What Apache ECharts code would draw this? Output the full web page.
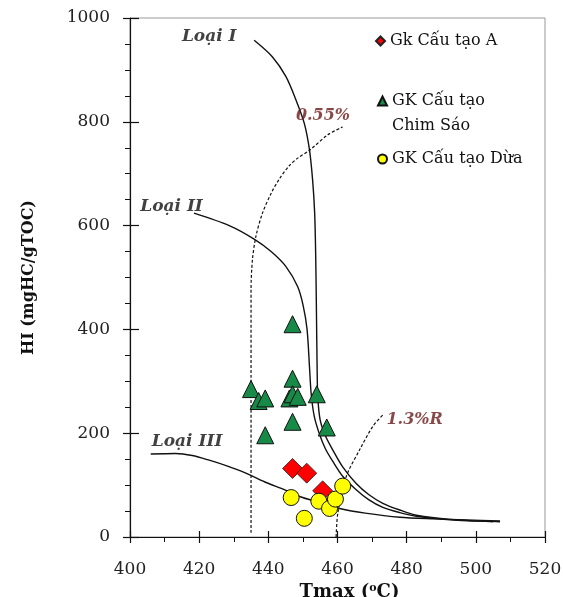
<!DOCTYPE html>
<html>
<head>
<meta charset="utf-8">
<script src="https://cdn.jsdelivr.net/npm/echarts@6/dist/echarts.min.js"></script>
<style>
  html, body { margin: 0; padding: 0; background: #fff; }
  #chart { width: 563px; height: 597px; }
</style>
</head>
<body>
<div id="chart"></div>
<script>
// sample points: [Tmax, HI]
const chimSao = [[447, 410], [447, 305], [435, 285], [437.2, 262], [439.1, 267],
  [446.1, 267], [447, 275], [448.5, 270], [454, 275], [447, 222], [439.1, 196], [456.9, 211]];
const cauTaoA = [[447, 132], [451.1, 123], [455.7, 89]];
const dua = [[446.6, 76], [450.4, 36], [454.6, 69], [457.7, 55], [459.4, 73], [461.5, 98]];

// kerogen type evolution paths
const loaiI = [[435.9, 957], [441.2, 925], [445.1, 887], [448, 842], [450.4, 797], [451.9, 746],
  [452.8, 688], [453.4, 624], [453.7, 540], [453.9, 440], [454.1, 330], [454.3, 270],
  [455, 225], [456.5, 195], [458.6, 168], [461.5, 135], [465.4, 103], [469, 82],
  [473.1, 65], [478, 52], [482.8, 42], [492.5, 34], [507, 29.5]];
const loaiII = [[418.5, 624], [428.7, 600], [435.9, 574], [440.8, 550],
  [445.1, 521], [448.5, 482], [450.1, 445], [451.2, 400], [451.9, 328], [452.4, 275],
  [453.3, 232], [454.8, 198], [456.5, 170], [458.6, 146], [461.5, 117], [465.4, 91],
  [469, 72], [473.1, 57], [478, 47], [482.8, 40], [492.5, 33], [505, 29.5]];
const loaiIII = [[406, 160], [413.2, 161], [418, 157], [422.9, 148], [428, 137], [433.5, 123],
  [439, 106], [445.1, 90], [449, 78], [455, 66], [460.6, 55], [468, 46], [478, 38],
  [488, 35], [497.3, 33], [507, 31]];

// vitrinite reflectance isolines
const ro055 = [[435, 8], [435, 250], [435, 476], [435.4, 534], [436.4, 579], [438.3, 624],
  [440.8, 662], [443.2, 690], [446, 715], [448.5, 730], [451.9, 745], [457.2, 775], [461.5, 790]];
const ro13 = [[459.6, 0], [460.1, 46], [462.5, 116], [466.4, 168], [470.2, 213], [473.1, 235]];

// curve labels
const curveLabels = ['Loại I', 'Loại II', 'Loại III'];
const curveLabelPos = [[422.9, 965], [412, 637], [416.5, 184]];
const roLabels = ['0.55%', '1.3%R'];
const roLabelPos = [[455.8, 812], [482.3, 226]];

const xTicks = [400, 520, 20];
const yTicks = [0, 1000, 200];

const serif = 'DejaVu Serif';

const chart = echarts.init(document.getElementById('chart'), null, { renderer: 'canvas' });

function curve(data, dashed) {
  return {
    type: 'line', data: data, symbol: 'none', smooth: 0.3, silent: true,
    lineStyle: { color: '#111', width: dashed ? 1.2 : 1.4, type: dashed ? [3, 2] : 'solid' },
    z: 2
  };
}

function legendAt(name, left, top, icon) {
  return {
    data: [{ name: name, icon: icon }], left: left, top: top, orient: 'vertical', padding: 0,
    itemWidth: 9, itemHeight: 9, itemGap: 0, selectedMode: false,
    textStyle: { fontFamily: serif, fontSize: 16, lineHeight: 18, color: '#111' }
  };
}

const labelData = curveLabels.map((n, i) => ({
  name: n, value: curveLabelPos[i],
  label: { color: '#111', fontStyle: 'italic', fontWeight: 'bold', fontSize: 17 }
})).concat(roLabels.map((n, i) => ({
  name: n, value: roLabelPos[i],
  label: { color: '#6b1a1a', fontStyle: 'italic', fontWeight: 'bold', fontSize: 16 }
})));

const option = {
  animation: false,
  backgroundColor: '#fff',
  grid: {
    left: 130, right: 18, top: 18, bottom: 60, outerBoundsMode: 'none', containLabel: false,
    show: true, borderColor: '#999', borderWidth: 1
  },
  xAxis: [{
    type: 'value', min: xTicks[0], max: xTicks[1], interval: xTicks[2],
    name: 'Tmax ({s|o}C)', nameLocation: 'middle', nameGap: 46,
    nameTextStyle: {
      fontFamily: serif, fontWeight: 'bold', fontSize: 18, color: '#111', padding: [0, 0, 0, 24],
      rich: { s: { fontFamily: serif, fontWeight: 'bold', fontSize: 11, color: '#111', verticalAlign: 'top', padding: [0, 0, 8, 0] } }
    },
    axisLine: { lineStyle: { color: '#111', width: 1.2 } },
    axisTick: { length: 6, lineStyle: { color: '#111', width: 1.2 } },
    minorTick: { show: true, splitNumber: 2, length: 5, lineStyle: { color: '#111' } },
    splitLine: { show: false },
    axisLabel: { margin: 24, fontFamily: serif, fontSize: 17, color: '#222', formatter: v => String(v) }
  }, {
    type: 'value', min: xTicks[0], max: xTicks[1], interval: xTicks[2], position: 'bottom',
    axisLine: { show: false }, axisLabel: { show: false }, splitLine: { show: false },
    axisTick: { inside: true, length: 6, lineStyle: { color: '#111', width: 1.2 } }
  }],
  yAxis: [{
    type: 'value', min: yTicks[0], max: yTicks[1], interval: yTicks[2],
    name: 'HI (mgHC/gTOC)', nameLocation: 'middle', nameGap: 93,
    nameTextStyle: { fontFamily: serif, fontWeight: 'bold', fontSize: 16, color: '#111' },
    axisLine: { lineStyle: { color: '#111', width: 1.2 } },
    axisTick: { length: 7, lineStyle: { color: '#111', width: 1.2 } },
    minorTick: { show: true, splitNumber: 4, length: 5, lineStyle: { color: '#111' } },
    splitLine: { show: false },
    axisLabel: { margin: 20, fontFamily: serif, fontSize: 17, color: '#222', formatter: v => String(v) }
  }, {
    type: 'value', min: yTicks[0], max: yTicks[1], interval: yTicks[2], position: 'left',
    axisLine: { show: false }, axisLabel: { show: false }, splitLine: { show: false },
    axisTick: { inside: true, length: 9, lineStyle: { color: '#111', width: 1.2 } }
  }],
  legend: [
    legendAt('Gk Cấu tạo A', 375, 32, 'diamond'),
    legendAt('GK Cấu tạo', 377, 92, 'triangle'),
    legendAt('GK Cấu tạo Dừa', 377, 150, 'circle')
  ],
  graphic: [{
    type: 'text', left: 392, top: 118,
    style: { text: 'Chim Sáo', font: '16px "DejaVu Serif"', fill: '#111' }
  }],
  series: [
    curve(loaiI, false),
    curve(loaiII, false),
    curve(loaiIII, false),
    curve(ro055, true),
    curve(ro13, true),
    {
      name: 'GK Cấu tạo', type: 'scatter', data: chimSao, symbol: 'triangle', symbolSize: 17,
      itemStyle: { color: '#178a47', borderColor: '#111', borderWidth: 1, opacity: 1 }, z: 3
    },
    {
      name: 'Gk Cấu tạo A', type: 'scatter', data: cauTaoA, symbol: 'diamond', symbolSize: 20,
      itemStyle: { color: '#ff0000', borderColor: '#222', borderWidth: 0.8, opacity: 1 }, z: 4
    },
    {
      name: 'GK Cấu tạo Dừa', type: 'scatter', data: dua, symbol: 'circle', symbolSize: 16,
      itemStyle: { color: '#ffff00', borderColor: '#111', borderWidth: 1, opacity: 1 }, z: 5
    },
    {
      type: 'scatter', data: labelData, symbolSize: 0, silent: true, z: 6,
      label: { show: true, position: 'inside', formatter: '{b}', fontFamily: serif }
    }
  ]
};

chart.setOption(option);
</script>
</body>
</html>
